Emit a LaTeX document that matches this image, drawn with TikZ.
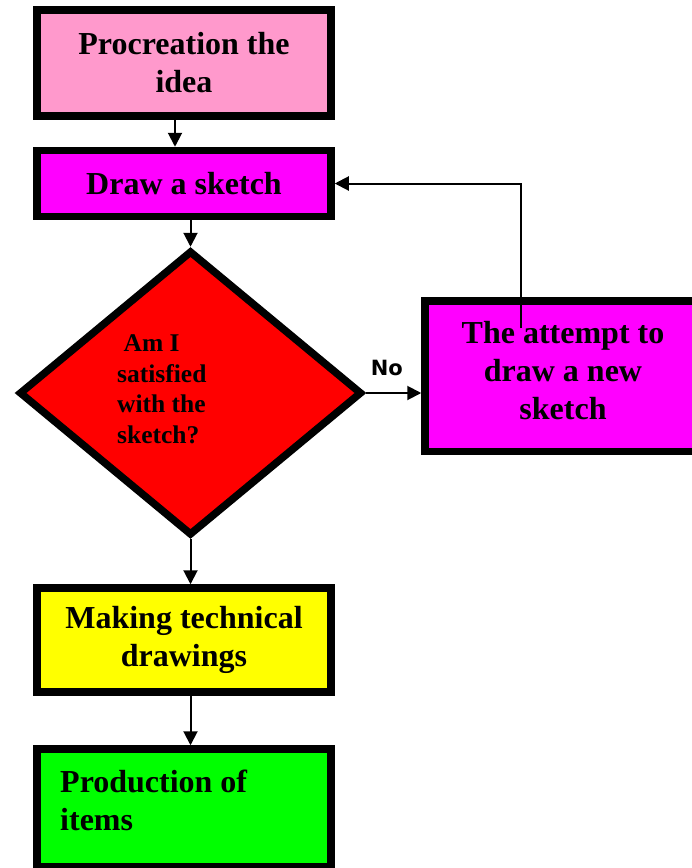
\documentclass[tikz,border=0pt]{standalone}
\usepackage{fontspec}
\setmainfont{Liberation Serif}
\newfontfamily\labelsans{DejaVu Sans}
\usetikzlibrary{arrows.meta,shapes.geometric}
\definecolor{ideapink}{HTML}{FF99CC}
\definecolor{stepmagenta}{HTML}{FF00FF}
\definecolor{checkred}{HTML}{FF0000}
\definecolor{techyellow}{HTML}{FFFF00}
\definecolor{prodgreen}{HTML}{00FF00}
\begin{document}
\begin{tikzpicture}[x=1pt,y=-1pt,
  box/.style={draw=black,line width=7.5pt,rectangle,inner sep=0pt,align=center,
    font=\fontsize{32}{38}\selectfont\bfseries},
  boxtext/.style={inner sep=0pt,align=left,font=\fontsize{32}{38}\selectfont\bfseries},
  qtext/.style={inner sep=0pt,align=left,font=\fontsize{25.5}{30.5}\selectfont\bfseries},
  link/.style={line width=2pt,-{Triangle[length=14pt,width=14pt]}},
]
\useasboundingbox (0,0) rectangle (692,868);

% process boxes
\node[box,fill=ideapink,minimum width=294pt,minimum height=106pt] (idea) at (184,63) {Procreation the\\idea};
\node[box,fill=stepmagenta,minimum width=294pt,minimum height=66pt] (sketch) at (184,183.5) {Draw a sketch};
\node[diamond,draw=black,line width=7.5pt,fill=checkred,inner sep=0pt,
      minimum width=343pt,minimum height=285pt] (check) at (190.5,393) {};
\node[qtext,anchor=base west] (question) at (117,443) {\hspace*{6.5pt}Am I\\satisfied\\with the\\sketch?};
\node[box,fill=stepmagenta,minimum width=272pt,minimum height=150.5pt] (retry) at (561,376) {};
\node[boxtext,align=center,anchor=base] (retrytext) at (563,419) {The attempt to\\draw a new\\sketch};
\node[box,fill=techyellow,minimum width=294pt,minimum height=104pt] (drawings) at (184,640) {Making technical\\drawings};
\node[box,fill=prodgreen,minimum width=294pt,minimum height=117.5pt] (items) at (184,807.75) {};
\node[boxtext,anchor=base west] (itemstext) at (60,830) {Production of\\items};

% connectors
\draw[link] ([xshift=-9pt]idea.south) -- ([xshift=-9pt]sketch.north);
\draw[link] (sketch.south -| check.north) -- (check.north);
\draw[link] (check.east) -- node[pos=0.38,anchor=base,yshift=18pt,inner sep=0pt,
  font=\labelsans\bfseries\fontsize{21}{25}\selectfont] (nolabel) {No} (check.east -| retry.west);
\coordinate (loopstart) at (521,328);
\draw[link] (loopstart) |- (sketch.east);
\draw[link] (check.south) -- (check.south |- drawings.north);
\draw[link] (drawings.south -| check.south) -- (check.south |- items.north);
\end{tikzpicture}
\end{document}
